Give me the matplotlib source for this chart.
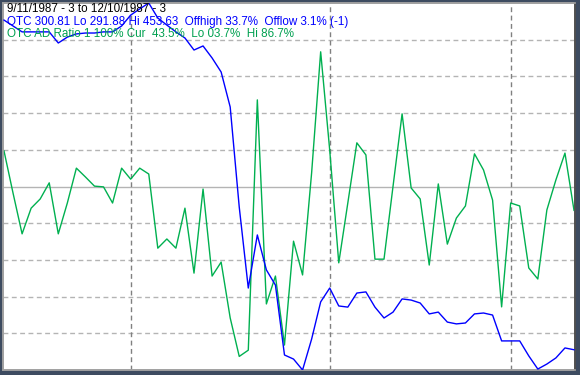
"""OTC composite vs OTC A/D ratio, 9/11/1987 - 12/10/1987 (daily)."""

import matplotlib

matplotlib.use("Agg")
import matplotlib.pyplot as plt  # noqa: E402

# OTC A/D ratio (percent), one value per trading day
ad_ratio = [
    59.7, 48.2, 37.1, 44.1, 46.6, 51.0, 37.1, 45.5, 55.0, 52.6,
    50.1, 49.9, 45.5, 55.0, 52.0, 55.0, 53.4, 33.2, 35.7, 33.2,
    44.1, 26.4, 49.3, 25.6, 29.4, 14.2, 3.7, 5.4, 73.6, 18.0,
    25.6, 6.8, 35.1, 25.9, 53.7, 86.7, 59.9, 29.2, 45.5, 61.9,
    58.6, 30.2, 30.2, 50.1, 69.8, 49.6, 46.6, 28.6, 50.7, 34.3,
    41.4, 44.7, 58.9, 54.5, 46.3, 17.2, 45.5, 44.7, 27.8, 24.8,
    43.6, 51.8, 59.1, 43.5,
]

# OTC composite close
otc = [
    446.1, 443.5, 440.9, 440.9, 440.9, 440.9, 436.0, 438.6, 440.0, 440.4,
    440.4, 440.9, 440.9, 443.5, 448.3, 451.0, 453.63, 447.0, 443.9, 440.9,
    438.2, 432.9, 434.7, 429.4, 423.2, 407.8, 363.7, 328.0, 351.4, 336.0,
    329.3, 298.5, 296.7, 291.88, 305.5, 321.9, 328.0, 320.1, 319.6, 325.8,
    326.3, 319.6, 314.8, 317.4, 323.2, 322.7, 321.4, 316.6, 317.4, 313.0,
    312.2, 312.6, 316.6, 317.0, 316.1, 304.7, 304.7, 304.7, 298.1, 292.3,
    294.5, 297.2, 301.6, 300.81,
]

month_starts = [14, 36, 56]  # Oct 1, Nov 2, Dec 1
pct_levels = [10, 20, 30, 40, 60, 70, 80, 90]

days = list(range(len(otc)))
W, H = 580, 375

fig = plt.figure(figsize=(W / 100, H / 100), dpi=100, facecolor="#3d4b60")
ax = fig.add_axes([3 / W, 5 / H, 572 / W, 367 / H], facecolor="white")
ax.set_xlim(-0.11, len(days) - 1 + 0.11)
ax.set_ylim(0, 100)
ax.set_xticks([])
ax.set_yticks([])

for lvl in pct_levels:
    ax.axhline(lvl, color="#b4b4b4", lw=1.0, ls=(0, (3.5, 2.5)), zorder=1)
ax.axhline(50, color="#b4b4b4", lw=1.0, zorder=1)
for d in month_starts:
    ax.axvline(d, color="#808080", lw=1.0, ls=(0, (3.5, 2.5)), zorder=1)

ax.plot(days, ad_ratio, color="#00b050", lw=1.0, zorder=3)

ax2 = ax.twinx()
ax2.set_ylim(min(otc), max(otc))
ax2.set_yticks([])
ax2.plot(days, otc, color="#0000ff", lw=1.0, zorder=3)

for a in (ax, ax2):
    for side in ("left", "bottom", "top"):
        a.spines[side].set_color("#a0a0a0")
        a.spines[side].set_linewidth(1.2)
    a.spines["right"].set_color("#505050")
    a.spines["right"].set_linewidth(1.2)

font = dict(family=["Liberation Sans", "DejaVu Sans"], fontsize=8.4)
fig.text(7 / W, 1 - 3 / H, "9/11/1987 - 3 to 12/10/1987 - 3",
         color="black", va="top", ha="left", **font)
fig.text(7 / W, 1 - 16 / H,
         "OTC 300.81 Lo 291.88 Hi 453.63  Offhigh 33.7%  Offlow 3.1% (-1)",
         color="#0000ff", va="top", ha="left", **font)
fig.text(7 / W, 1 - 28 / H, "OTC AD Ratio 1 100% Cur  43.5%  Lo 03.7%  Hi 86.7%",
         color="#00a050", va="top", ha="left", **font)

fig.savefig("out.png", dpi=100, facecolor=fig.get_facecolor())
